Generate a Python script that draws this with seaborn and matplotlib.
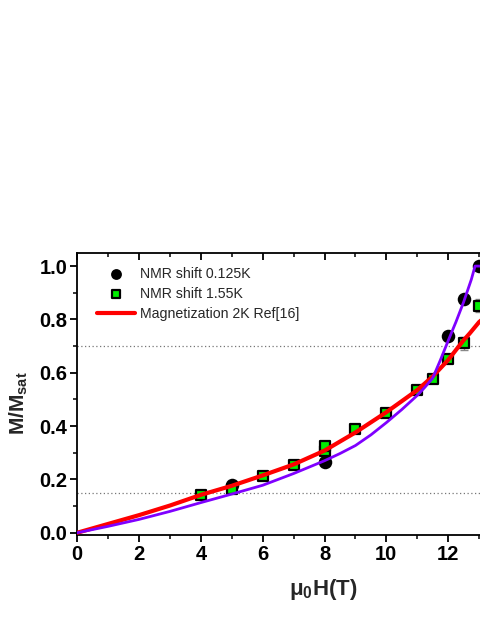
import numpy as np
import pandas as pd
import matplotlib
matplotlib.use("Agg")
import matplotlib.pyplot as plt
import seaborn as sns
from matplotlib.ticker import MultipleLocator

# ---- data ----
nmr_low_field = [5, 8, 12, 12.5, 13]
nmr_low_val = [0.178, 0.265, 0.739, 0.877, 1.0]

nmr_high_field = [4, 5, 6, 7, 8, 8, 9, 10, 11, 11.5, 12, 12.5, 13]
nmr_high_val = [0.141, 0.164, 0.213, 0.254, 0.308, 0.324, 0.388, 0.449, 0.537, 0.578, 0.652, 0.71, 0.851]
nmr_high_err = [0, 0, 0, 0, 0, 0, 0, 0, 0, 0, 0, 0.025, 0.025]

mag_field = [0, 1, 2, 3, 4, 5, 6, 7, 8, 9, 10, 11, 11.5, 12, 12.5, 12.7, 13, 13.2]
mag_val = [0, 0.033, 0.066, 0.102, 0.142, 0.176, 0.215, 0.256, 0.308, 0.376, 0.452, 0.535, 0.586, 0.648, 0.722, 0.748, 0.79, 0.81]

fit_field = [0, 1, 2, 3, 4, 5, 6, 7, 8, 8.5, 9, 9.5, 10, 10.5, 11, 11.25, 11.5, 11.75, 12, 12.25, 12.5, 12.75, 12.87, 13.2]
fit_val = [0, 0.024, 0.05, 0.08, 0.113, 0.145, 0.178, 0.222, 0.27, 0.297, 0.327, 0.367, 0.413, 0.462, 0.515, 0.546, 0.58, 0.648, 0.72, 0.79, 0.865, 0.95, 1.0, 1.0]

ref_lines = [0.15, 0.7]

legend_labels = ["NMR shift 0.125K", "NMR shift 1.55K", "Magnetization 2K Ref[16]"]

# ---- style ----
sns.set_style("ticks")
plt.rcParams["font.family"] = ["Liberation Sans", "DejaVu Sans"]
plt.rcParams["mathtext.fontset"] = "custom"
plt.rcParams["mathtext.rm"] = "Liberation Sans"
plt.rcParams["mathtext.it"] = "Liberation Sans:italic"
plt.rcParams["mathtext.bf"] = "Liberation Sans:bold"

fig = plt.figure(figsize=(4.8, 6.21), dpi=100)
ax = fig.add_axes([77.3 / 480, 86 / 621, 1 - 77.3 / 480, (535 - 253.3) / 621])

df_low = pd.DataFrame({"H": nmr_low_field, "M": nmr_low_val})
df_high = pd.DataFrame({"H": nmr_high_field, "M": nmr_high_val, "err": nmr_high_err})
df_mag = pd.DataFrame({"H": mag_field, "M": mag_val})
df_fit = pd.DataFrame({"H": fit_field, "M": fit_val})

for y in ref_lines:
    ax.axhline(y, color="#777777", ls=(0, (1, 2)), lw=0.9, zorder=1)

# error bars for squares
ax.errorbar(df_high["H"], df_high["M"], yerr=df_high["err"], fmt="none",
            ecolor="#888888", elinewidth=1, capsize=3, zorder=2)

sns.scatterplot(data=df_low, x="H", y="M", ax=ax, color="black", marker="o",
                s=95, edgecolor="black", linewidth=0, zorder=3,
                label=legend_labels[0])
sns.scatterplot(data=df_high, x="H", y="M", ax=ax, color="#00ee00", marker="s",
                s=60, edgecolor="black", linewidth=1.6, zorder=3,
                label=legend_labels[1])
sns.lineplot(data=df_mag, x="H", y="M", ax=ax, color="#ff0000", lw=3,
             zorder=4, label=legend_labels[2])
sns.lineplot(data=df_fit, x="H", y="M", ax=ax, color="#7f00ff", lw=2.0,
             zorder=5, legend=False)
for ln in ax.get_lines():
    ln.set_solid_joinstyle("round")

ax.set_xlim(0, 13.03)
ax.set_ylim(-0.0086, 1.048)

ax.xaxis.set_major_locator(MultipleLocator(2))
ax.xaxis.set_minor_locator(MultipleLocator(1))
ax.yaxis.set_major_locator(MultipleLocator(0.2))
ax.yaxis.set_minor_locator(MultipleLocator(0.1))
ax.set_yticks([0, 0.2, 0.4, 0.6, 0.8, 1.0])
ax.set_yticklabels(["0.0", "0.2", "0.4", "0.6", "0.8", "1.0"])

ax.spines["right"].set_visible(False)
for s in ["left", "bottom", "top"]:
    ax.spines[s].set_linewidth(1.3)
    ax.spines[s].set_color("black")

ax.tick_params(axis="both", which="major", direction="out", length=5, width=1.3,
               labelsize=14.5, colors="black", pad=2)
ax.tick_params(axis="both", which="minor", direction="out", length=3, width=1.3)
ax.tick_params(axis="x", which="both", top=True, bottom=True)
# top ticks inward
for t in ax.xaxis.get_major_ticks() + ax.xaxis.get_minor_ticks():
    t.tick2line.set_marker(3)  # TICKDOWN
for lab in ax.get_xticklabels() + ax.get_yticklabels():
    lab.set_fontweight("bold")

ax.set_xlabel(r"$\mathregular{\mu_0}$H(T)", fontsize=16, fontweight="bold")
ax.set_ylabel(r"M/M$_{\mathbf{sat}}$", fontsize=15, fontweight="bold")
ax.xaxis.set_label_coords((323 - 77.3) / (480 - 77.3), -(589 - 535) / (535 - 253.3))
ax.yaxis.set_label_coords(-(78 - 20) / (480 - 77.3), (535 - 403) / (535 - 253.3))
ax.xaxis.label.set_va("center")
ax.yaxis.label.set_va("center")

leg = ax.legend(loc="upper left", bbox_to_anchor=(97 / 480, 1 - 267 / 621),
                bbox_transform=fig.transFigure, frameon=False, fontsize=10.2,
                handlelength=2.7, handletextpad=0.3, labelspacing=0.42,
                borderpad=0, borderaxespad=0, markerscale=0.8)

fig.savefig("out.png", dpi=100)
